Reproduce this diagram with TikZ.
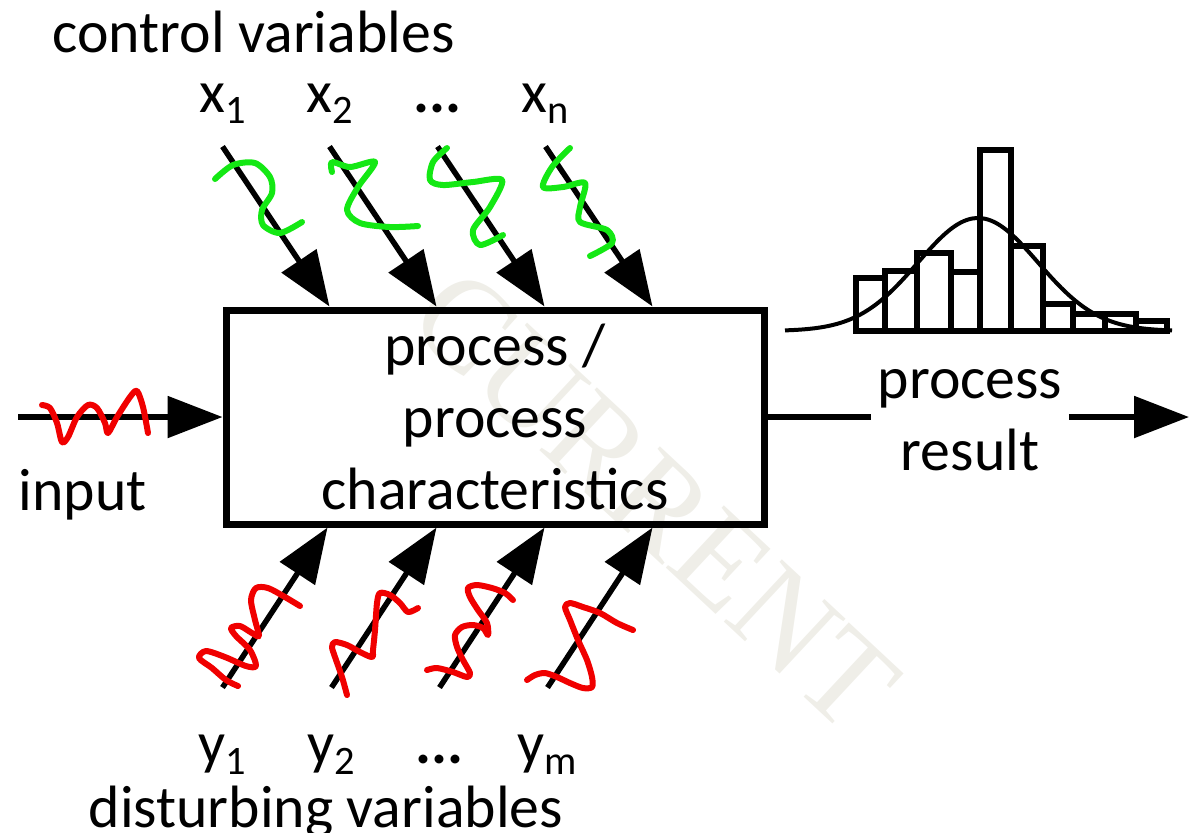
\documentclass[tikz,border=0pt]{standalone}
\usepackage{fontspec}
\setmainfont{Carlito}
\newfontfamily\wmfont{Liberation Serif}
\usetikzlibrary{arrows.meta, positioning, calc}
\definecolor{cgreen}{RGB}{20,232,20}
\definecolor{cred}{RGB}{240,0,0}
\definecolor{cwater}{RGB}{239,238,232}
\newcommand{\vsub}[1]{\raisebox{-3pt}{\fontsize{11.5}{11.5}\selectfont #1}}
\newcommand{\pdots}{\textbf{...}}
\tikzset{
  every picture/.style={font=\fontsize{17}{20.6}\selectfont},
  procbox/.style={draw, line width=0.7mm, minimum width=53.8mm, minimum height=21.4mm, align=center, inner sep=0pt},
  arrow/.style={-{Triangle[length=5.5mm, width=4.1mm]}, line width=0.55mm},
  plain/.style={line width=0.55mm},
  squig/.style={draw=#1, line width=0.6mm, line cap=round, line join=round},
  squig/.default=cred,
  bar/.style={line width=0.6mm},
  lbl/.style={inner sep=0pt},
}

\begin{document}
\begin{tikzpicture}[x=0.1mm, y=-0.1mm, res/.style={align=center, inner xsep=0.6mm, inner ysep=0pt}]
  \useasboundingbox (0,0) rectangle (1189,832);
  \node[text=cwater, font=\wmfont\fontsize{37}{37}\selectfont, rotate=-43] (wm) at (655,500) {CURRENT};
  \node[procbox] (proc) at (495,417) {process /\\process\\characteristics};
  \node[lbl, anchor=base west] (ctrl) at (52,52) {control variables};
  \node[lbl, anchor=base west] (dist) at (88,827) {disturbing variables};
  \node[lbl, anchor=base west] (inlbl) at (18,510) {input};
  % control variables
  \foreach \i/\dx/\t in {1/107/x\vsub{1}, 2/214/x\vsub{2}, 3/322/\pdots, 4/430/x\vsub{n}} {
    \coordinate (xe\i) at ($(proc.north west)+(\dx,0)$);
    \coordinate (xs\i) at ($(xe\i)+(-107,-160)$);
    \node[lbl, anchor=base] (xl\i) at ($(xs\i)+(0,-34)$) {\t};
    \draw[arrow] (xs\i) -- (xe\i);
  }
  % disturbing variables
  \foreach \i/\dx/\t in {1/105/y\vsub{1}, 2/214/y\vsub{2}, 3/322/\pdots, 4/430/y\vsub{m}} {
    \coordinate (ye\i) at ($(proc.south west)+(\dx,0)$);
    \coordinate (ys\i) at ($(ye\i)+(-105,160)$);
    \node[lbl, anchor=base] (yl\i) at ($(ys\i)+(0,76)$) {\t};
    \draw[arrow] (ys\i) -- (ye\i);
  }
  % input and result
  \coordinate (in) at (18,417);
  \draw[arrow] (in) -- (in -| proc.west);
  \node[res] (res) at (970,420) {process\\result};
  \coordinate (out) at (1189,417);
  \draw[plain] (proc.east) -- (proc.east -| res.west);
  \draw[arrow] (res.east |- proc.east) -- (out);
  % histogram
  \foreach \a/\b/\h in {856/885/278, 885/917/271, 917/951/253, 951/980/272, 980/1011/150, 1011/1043/246, 1043/1073/304, 1073/1105/314, 1105/1136/314, 1136/1167/321}
    \draw[bar] (\a,331) rectangle (\b,\h);
  \draw[line width=0.4mm] plot[domain=785:1172, samples=90, smooth] (\x, {331-113*exp(-0.5*((\x-978)/60)^2)});
  % squiggles
  \draw[squig=cgreen] plot[smooth] coordinates {(215,179) (233,165) (255,163) (270,177) (272,193) (262,210) (263,225) (280,233) (302,222)};
  \draw[squig=cgreen] plot[smooth] coordinates {(332,172) (332,162) (350,167) (375,162) (358,187) (347,210) (360,223) (390,227) (418,226)};
  \draw[squig=cgreen] plot[smooth] coordinates {(447,148) (433,162) (430,180) (443,185) (473,182) (502,180) (490,207) (473,230) (480,245) (503,235)};
  \draw[squig=cgreen] plot[smooth] coordinates {(570,148) (552,167) (543,187) (563,187) (585,183) (580,207) (580,222) (607,230) (612,243) (590,256)};
  \draw[squig] plot[smooth] coordinates {(42,405) (50,408) (57,423) (62,442) (68,437) (77,417) (88,405) (97,408) (105,423) (108,433) (117,417) (130,397) (137,391) (143,407) (148,433)};
  \draw[squig] plot[smooth] coordinates {(238,686) (226,680) (212,668) (199,658) (206,651) (225,657) (246,666) (256,666) (250,650) (236,636) (231,628) (240,626) (252,633) (259,636) (255,620) (251,600) (256,588) (268,588) (285,597) (300,606)};
  \draw[squig] plot[smooth] coordinates {(347,695) (342,677) (335,657) (332,647) (335,642) (347,645) (360,652) (372,657) (373,650) (375,630) (377,603) (380,593) (390,595) (400,603) (408,612) (418,608)};
  \draw[squig] plot[smooth] coordinates {(427,670) (437,668) (453,672) (467,677) (470,673) (463,660) (457,647) (455,635) (462,627) (473,625) (483,628) (488,635) (487,623) (478,610) (470,597) (468,588) (477,585) (492,588) (505,593) (513,600)};
  \draw[squig] plot[smooth] coordinates {(527,680) (535,675) (545,673) (557,677) (570,683) (583,688) (592,687) (592,677) (587,660) (578,640) (570,620) (565,607) (570,603) (583,607) (600,613) (617,623) (633,630)};
\end{tikzpicture}
\end{document}
